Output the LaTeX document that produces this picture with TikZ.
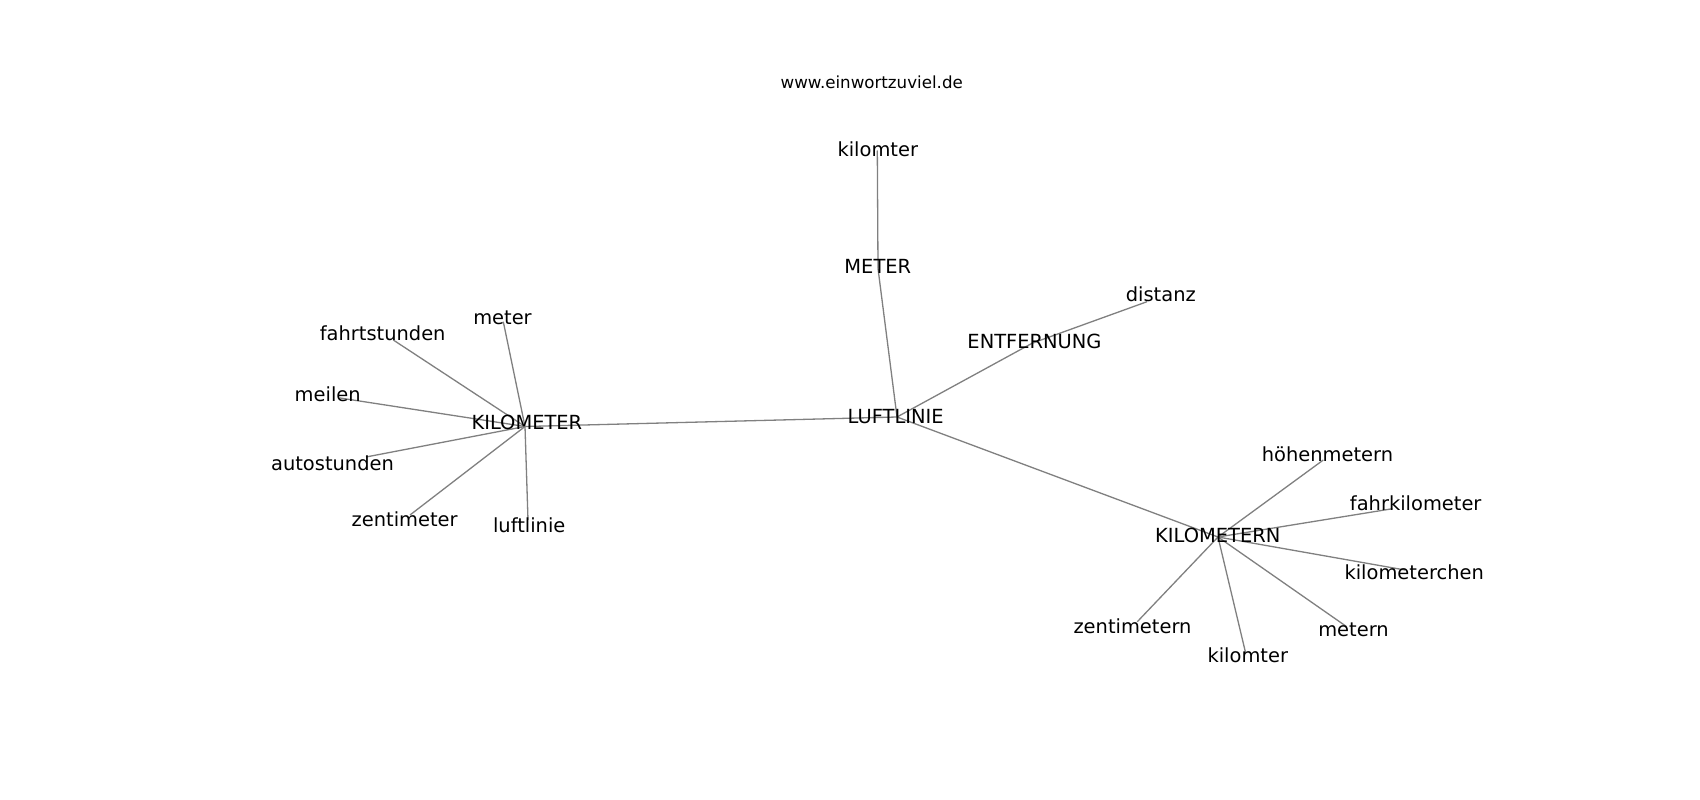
\documentclass[tikz,border=0pt]{standalone}
\usepackage{fontspec}
\setmainfont{DejaVu Sans}
\tikzset{
  lbl/.style={font=\fontsize{19.44}{23}\selectfont, inner sep=0pt, anchor=base, text=black},
  ttl/.style={font=\fontsize{16.67}{20}\selectfont, inner sep=0pt, anchor=base, text=black},
  link/.style={draw=black!50, line width=1.3pt}
}
\begin{document}
\begin{tikzpicture}[x=1pt,y=-1pt]
\path[use as bounding box, fill=white] (0,0) rectangle (1700,800);
% node points
\coordinate (p-kmtop) at (877.3,150.5);
\coordinate (p-meterU) at (878,268.5);
\coordinate (p-luftU) at (897,417);
\coordinate (p-entf) at (1032,343.3);
\coordinate (p-dist) at (1147,301.7);
\coordinate (p-kmU) at (525,426.5);
\coordinate (p-meter) at (503.3,321.7);
\coordinate (p-fahrt) at (393.3,340);
\coordinate (p-meilen) at (340,398);
\coordinate (p-auto) at (366,457);
\coordinate (p-zenti) at (410,515);
\coordinate (p-luftl) at (528,520);
\coordinate (p-kmnU) at (1218,537);
\coordinate (p-hoehen) at (1323.3,460);
\coordinate (p-fahrk) at (1392.5,508.7);
\coordinate (p-kmchen) at (1405,570);
\coordinate (p-metern) at (1346.7,626.7);
\coordinate (p-kmbot) at (1245.7,653.3);
\coordinate (p-zentin) at (1137.3,621.7);
% connectors
\draw[link] (p-kmtop) -- (p-meterU);
\draw[link] (p-meterU) -- (p-luftU);
\draw[link] (p-luftU) -- (p-entf);
\draw[link] (p-entf) -- (p-dist);
\draw[link] (p-luftU) -- (p-kmU);
\draw[link] (p-luftU) -- (p-kmnU);
\draw[link] (p-kmU) -- (p-meter);
\draw[link] (p-kmU) -- (p-fahrt);
\draw[link] (p-kmU) -- (p-meilen);
\draw[link] (p-kmU) -- (p-auto);
\draw[link] (p-kmU) -- (p-zenti);
\draw[link] (p-kmU) -- (p-luftl);
\draw[link] (p-kmnU) -- (p-hoehen);
\draw[link] (p-kmnU) -- (p-fahrk);
\draw[link] (p-kmnU) -- (p-kmchen);
\draw[link] (p-kmnU) -- (p-metern);
\draw[link] (p-kmnU) -- (p-kmbot);
\draw[link] (p-kmnU) -- (p-zentin);
% labels
\node[ttl] (title) at (871.7,88.3) {www.einwortzuviel.de};
\node[lbl] (kmtop) at (877.8,156) {kilomter};
\node[lbl] (meterU) at (877.8,273.3) {METER};
\node[lbl] (luftU) at (895.7,423.3) {LUFTLINIE};
\node[lbl] (entf) at (1034.5,348.3) {ENTFERNUNG};
\node[lbl] (dist) at (1160.8,301.7) {distanz};
\node[lbl] (kmU) at (526.9,429.5) {KILOMETER};
\node[lbl] (meter) at (502.5,324) {meter};
\node[lbl] (fahrt) at (382.7,340.5) {fahrtstunden};
\node[lbl] (meilen) at (327.7,401) {meilen};
\node[lbl] (auto) at (332.5,470) {autostunden};
\node[lbl] (zenti) at (404.7,526) {zentimeter};
\node[lbl] (luftl) at (529.2,532.7) {luftlinie};
\node[lbl] (kmnU) at (1217.8,542.7) {KILOMETERN};
\node[lbl] (hoehen) at (1327.5,461.7) {höhenmetern};
\node[lbl] (fahrk) at (1415.7,510.5) {fahrkilometer};
\node[lbl] (kmchen) at (1414.2,579) {kilometerchen};
\node[lbl] (metern) at (1353.5,636) {metern};
\node[lbl] (kmbot) at (1247.8,662.7) {kilomter};
\node[lbl] (zentin) at (1132.5,633.3) {zentimetern};
\end{tikzpicture}
\end{document}
